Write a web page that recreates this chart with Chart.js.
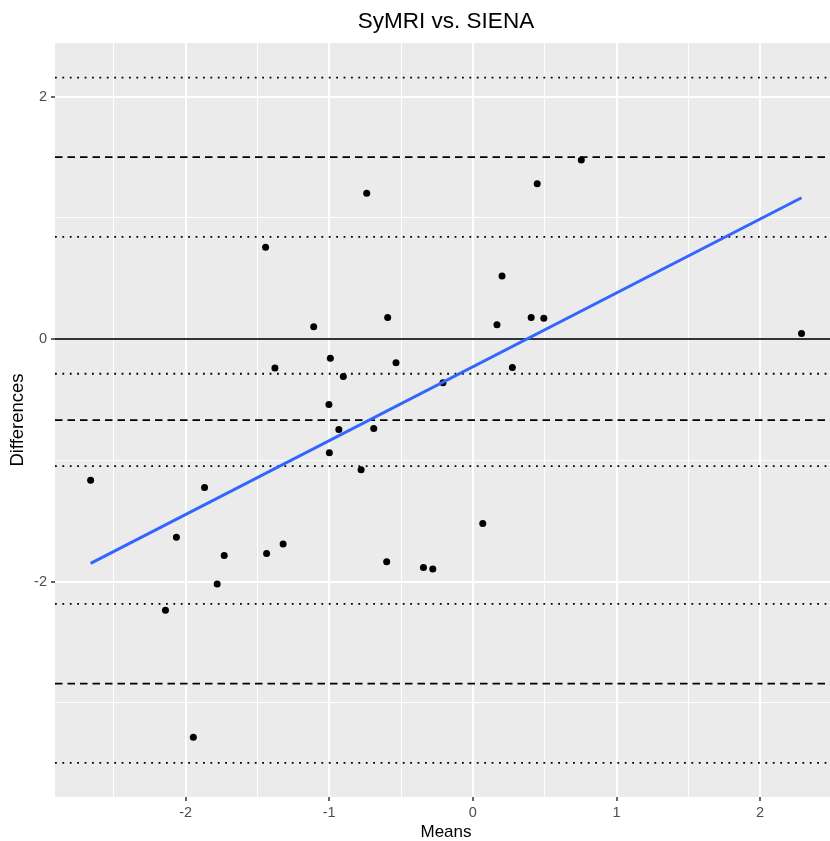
<!DOCTYPE html>
<html>
<head>
<meta charset="utf-8">
<title>SyMRI vs. SIENA</title>
<script src="https://cdn.jsdelivr.net/npm/chart.js@4/dist/chart.umd.min.js"></script>
<style>
  html, body { margin: 0; padding: 0; background: #ffffff; overflow: hidden; }
  /* the panel runs a little past the right edge of the picture, as in the reference */
  #wrap { width: 830px; height: 841px; overflow: hidden; }
  #baPlot { display: block; }
</style>
</head>
<body>
<div id="wrap"><canvas id="baPlot" width="841" height="841"></canvas></div>
<script>
// Bland-Altman data
const means = [
  -0.739, -1.443, -1.108, -0.593, -1.378, -0.992, -0.902, -0.535, -0.208,
  0.755, 0.448, 0.203, 0.168, 0.406, 0.494, 0.275, 2.288,
  -1.002, -0.933, -0.690, -0.999, -0.778, -2.661, -1.868, -2.064, -1.731,
  -1.436, -1.321, -0.600, -0.344, -0.279, -1.780, -2.140, -1.946, 0.069
];
const differences = [
  1.203, 0.757, 0.102, 0.179, -0.239, -0.157, -0.308, -0.195, -0.360,
  1.478, 1.282, 0.520, 0.118, 0.179, 0.171, -0.234, 0.047,
  -0.539, -0.745, -0.737, -0.938, -1.079, -1.164, -1.224, -1.634, -1.786,
  -1.769, -1.690, -1.838, -1.885, -1.896, -2.020, -2.237, -3.285, -1.521
];

// linear fit (geom_smooth, lm) end points
const fitX = [-2.661, 2.288];
const fitY = [-1.850, 1.166];

// mean difference, limits of agreement and their confidence bounds
const meanDiff = -0.669;
const limits = [1.502, -2.842];
const ciBounds = [2.157, 0.844, -0.286, -1.048, -2.185, -3.497];

const xRange = [-2.909, 2.535];
const yRange = [-3.778, 2.443];
const xBreaks = [-2.5, -2, -1.5, -1, -0.5, 0, 0.5, 1, 1.5, 2, 2.5];
const xMajor = [-2, -1, 0, 1, 2];
const yBreaks = [-3, -2, -1, 0, 1, 2];
const yMajor = [-2, 0, 2];

const FONT = "'Liberation Sans', Arial, sans-serif";

const hline = (y, dash, width, color) => ({
  type: 'line',
  data: [{ x: xRange[0], y }, { x: xRange[1], y }],
  borderColor: color || '#000000',
  borderWidth: width,
  borderDash: dash,
  pointRadius: 0,
  fill: false
});

const panelBg = {
  id: 'panelBg',
  beforeDraw(chart) {
    const { ctx, chartArea: a } = chart;
    ctx.save();
    ctx.fillStyle = '#EBEBEB';
    ctx.fillRect(a.left, a.top, a.right - a.left, a.bottom - a.top);
    ctx.restore();
  }
};

const gridFor = (major) => ({
  color: '#FFFFFF',
  lineWidth: c => major.includes(c.tick.value) ? 2 : 1,
  tickColor: c => major.includes(c.tick.value) ? '#333333' : 'rgba(0,0,0,0)',
  tickWidth: 1.5,
  tickLength: 4,
  drawTicks: true
});

new Chart(document.getElementById('baPlot'), {
  type: 'scatter',
  data: {
    datasets: [
      {
        type: 'line',
        data: fitX.map((x, i) => ({ x, y: fitY[i] })),
        borderColor: '#3366FF',
        borderWidth: 3,
        pointRadius: 0,
        fill: false
      },
      {
        data: means.map((x, i) => ({ x, y: differences[i] })),
        backgroundColor: '#000000',
        borderColor: '#000000',
        pointRadius: 3.5,
        borderWidth: 0
      },
      hline(0, [], 2, '#333333'),
      hline(meanDiff, [7.5, 5], 1.7),
      ...limits.map(v => hline(v, [7.5, 5], 1.7)),
      ...ciBounds.map(v => hline(v, [1.8, 5.6], 1.8))
    ]
  },
  options: {
    responsive: false,
    devicePixelRatio: 1,
    animation: false,
    layout: { padding: 0 },
    plugins: {
      legend: { display: false },
      tooltip: { enabled: false },
      title: {
        display: true,
        fullSize: false,
        text: 'SyMRI vs. SIENA',
        color: '#000000',
        font: { family: FONT, size: 22.5, weight: 'normal' },
        padding: { top: 8, bottom: 8 }
      }
    },
    scales: {
      x: {
        type: 'linear',
        min: xRange[0],
        max: xRange[1],
        afterBuildTicks: s => { s.ticks = xBreaks.map(value => ({ value })); },
        afterFit: s => { s.height = 44; s.paddingLeft = 0; s.paddingRight = 0; },
        grid: gridFor(xMajor),
        border: { display: false },
        ticks: {
          color: '#4D4D4D',
          padding: 3,
          maxRotation: 0,
          autoSkip: false,
          font: { family: FONT, size: 14.5 },
          callback: v => xMajor.includes(v) ? String(v) : ''
        },
        title: {
          display: true,
          text: 'Means',
          color: '#000000',
          padding: { top: 0, bottom: 0 },
          font: { family: FONT, size: 17, lineHeight: 1 }
        }
      },
      y: {
        type: 'linear',
        min: yRange[0],
        max: yRange[1],
        afterBuildTicks: s => { s.ticks = yBreaks.map(value => ({ value })); },
        afterFit: s => { s.width = 55; },
        grid: gridFor(yMajor),
        border: { display: false },
        ticks: {
          color: '#4D4D4D',
          padding: 4,
          autoSkip: false,
          font: { family: FONT, size: 14.5 },
          callback: v => yMajor.includes(v) ? String(v) : ''
        },
        title: {
          display: true,
          text: 'Differences',
          color: '#000000',
          padding: { top: 7, bottom: 7 },
          font: { family: FONT, size: 18.5 }
        }
      }
    }
  },
  plugins: [panelBg]
});
</script>
</body>
</html>
